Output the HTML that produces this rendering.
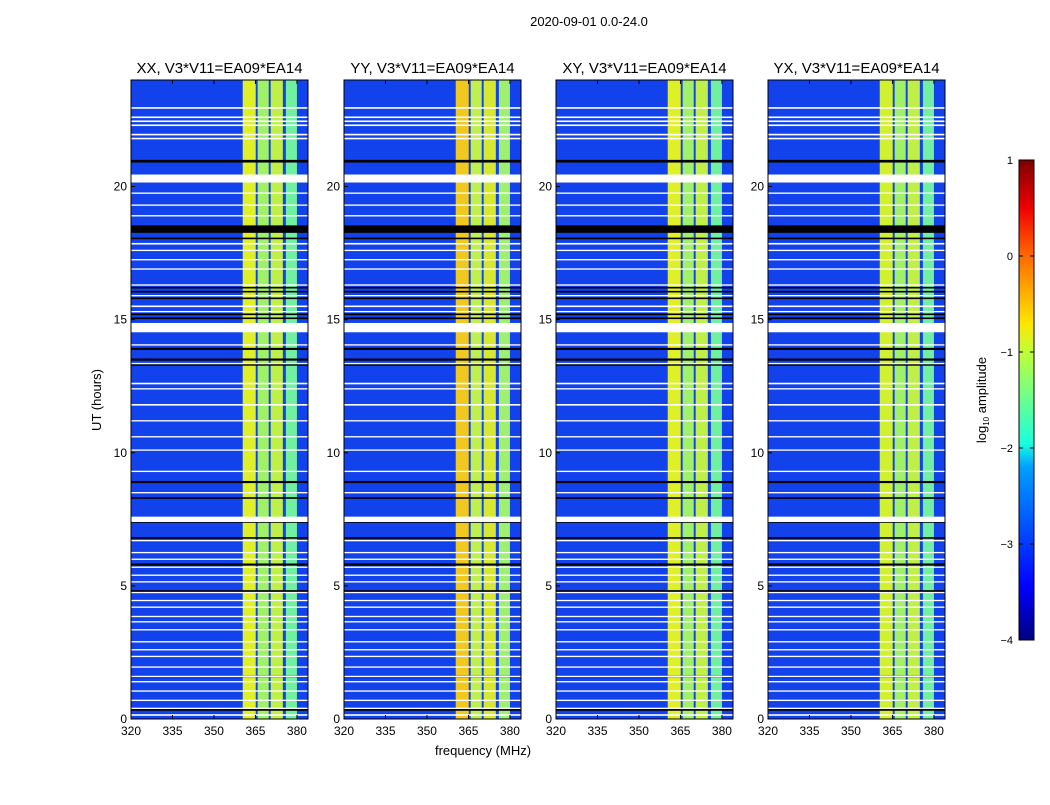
<!DOCTYPE html>
<html><head><meta charset="utf-8"><style>
body{margin:0;background:#fff;}
svg text{font-family:"Liberation Sans",sans-serif;fill:#000;}
</style></head><body>
<svg id="fig" width="1050" height="800" xmlns="http://www.w3.org/2000/svg">
<defs>
<linearGradient id="jet" x1="0" y1="1" x2="0" y2="0">
<stop offset="0" stop-color="#00007f"/><stop offset="0.11" stop-color="#0000ff"/>
<stop offset="0.36" stop-color="#00a0ff"/><stop offset="0.41" stop-color="#19ffdf"/>
<stop offset="0.6" stop-color="#c0ff37"/><stop offset="0.66" stop-color="#ffe600"/>
<stop offset="0.8" stop-color="#ff6a00"/><stop offset="0.9" stop-color="#f00000"/>
<stop offset="1" stop-color="#7f0000"/></linearGradient>
</defs>
<text x="589" y="26" font-size="13" text-anchor="middle">2020-09-01 0.0-24.0</text>
<text x="483" y="755" font-size="13" text-anchor="middle">frequency (MHz)</text>
<text transform="translate(101,400) rotate(-90)" font-size="13" text-anchor="middle">UT (hours)</text>
<g id="panels"></g>
<g>
<rect x="1019" y="160" width="15" height="480" fill="url(#jet)" stroke="#000" stroke-width="1"/>
<text transform="translate(986,400) rotate(-90)" font-size="13" text-anchor="middle">log<tspan font-size="8" dy="3">10</tspan><tspan dy="-3"> amplitude</tspan></text>
</g>
<g id="cbticks"></g>
</svg>
<script>
const titles=["XX, V3*V11=EA09*EA14","YY, V3*V11=EA09*EA14","XY, V3*V11=EA09*EA14","YX, V3*V11=EA09*EA14"];
const xTicks=[320,335,350,365,380];
const yTicks=[0,5,10,15,20];
const bandCols=[[360.4,365.1],[365.8,369.8],[370.5,374.9],[376,380]];
const bandColors=[["#e0f028","#a0f068","#c0f048","#70f0a0"],["#f0c820","#c0f050","#d8e830","#a0f070"],["#e0f028","#a0f068","#c0f048","#70f0a0"],["#d0f030","#a0f068","#c0f048","#70f0a0"]];
const whiteLines=[[22.95,0.06],[22.6,0.06],[22.45,0.06],[22.3,0.06],[21.95,0.06],[21.8,0.06],[20.3,0.3],[19.75,0.05],[19.3,0.05],[18.9,0.05],[17.85,0.06],[17.6,0.05],[17.25,0.05],[16.9,0.05],[16.3,0.05],[15.9,0.05],[15.5,0.06],[15.3,0.05],[14.7,0.35],[14.05,0.05],[13.35,0.05],[12.6,0.06],[12.4,0.05],[11.8,0.06],[11.2,0.05],[10.6,0.05],[10.1,0.05],[9.3,0.05],[8.5,0.05],[7.5,0.2],[6.7,0.05],[6.25,0.05],[6.0,0.05],[5.7,0.05],[5.4,0.05],[5.15,0.05],[4.75,0.05],[4.45,0.05],[4.2,0.05],[3.85,0.05],[3.65,0.05],[3.35,0.05],[2.9,0.05],[2.6,0.05],[2.35,0.05],[1.95,0.05],[1.6,0.05],[1.4,0.05],[1.05,0.05],[0.7,0.05],[0.4,0.05],[0.15,0.06]];
const blackLines=[[20.95,0.1],[18.4,0.28],[18.05,0.06],[16.2,0.06],[16.05,0.06],[15.8,0.06],[15.2,0.06],[15.05,0.06],[13.9,0.08],[13.5,0.08],[13.3,0.06],[8.9,0.08],[8.3,0.06],[7.4,0.06],[6.8,0.06],[5.8,0.08],[4.8,0.08],[1.6,0.06],[0.35,0.08]];
const cbTicks=[1,0,-1,-2,-3,-4];

const NS="http://www.w3.org/2000/svg";
function mk(tag,attrs,parent){const e=document.createElementNS(NS,tag);for(const k in attrs)e.setAttribute(k,attrs[k]);parent.appendChild(e);return e;}
const lefts=[131,344,556,768];
const W=177,top0=80,bot=719;
const fMin=320,fMax=384,hMax=24;
const root=document.getElementById('panels');
lefts.forEach((L,p)=>{
  const xs=f=>L+(f-fMin)/(fMax-fMin)*W;
  const ys=h=>bot-h/hMax*(bot-top0);
  const g=mk('g',{},root);
  
  
  const bg=mk('rect',{x:L,y:top0,width:W,height:bot-top0,fill:'#1242ec'},g);
  
  
  bandCols.forEach((c,i)=>{
    const r=mk('rect',{x:xs(c[0]),y:top0,width:xs(c[1])-xs(c[0]),height:bot-top0,fill:bandColors[p][i]},g);
    
    
  });
  blackLines.forEach(b=>{
    const r=mk('rect',{x:L,y:ys(b[0]+b[1]/2),width:W,height:Math.max(1.5,ys(b[0]-b[1]/2)-ys(b[0]+b[1]/2)),fill:'#000'},g);
    
    
  });
  whiteLines.forEach(b=>{
    const r=mk('rect',{x:L,y:ys(b[0]+b[1]/2),width:W,height:Math.max(1.2,ys(b[0]-b[1]/2)-ys(b[0]+b[1]/2)),fill:'#fff'},g);
    
    
  });
  mk('rect',{x:L,y:top0,width:W,height:bot-top0,fill:'none',stroke:'#000','stroke-width':1},g);
  const t=mk('text',{x:L+W/2,y:73,'font-size':15,'text-anchor':'middle'},g);t.textContent=titles[p];
  
  
  xTicks.forEach(v=>{
    mk('line',{x1:xs(v),x2:xs(v),y1:bot,y2:bot-4,stroke:'#000'},g);
    mk('line',{x1:xs(v),x2:xs(v),y1:top0,y2:top0+4,stroke:'#000'},g);
    const tt=mk('text',{x:xs(v),y:bot+16,'font-size':12,'text-anchor':'middle'},g);tt.textContent=v;
    
    
  });
  yTicks.forEach(v=>{
    mk('line',{x1:L,x2:L+4,y1:ys(v),y2:ys(v),stroke:'#000'},g);
    const tt=mk('text',{x:L-4,y:ys(v)+4,'font-size':12,'text-anchor':'end'},g);tt.textContent=v;
    
    
  });
});
const cb=document.getElementById('cbticks');
cbTicks.forEach(v=>{
  const y=160+(1-v)/5*480;
  mk('line',{x1:1019,x2:1023,y1:y,y2:y,stroke:'#000'},cb);
  mk('line',{x1:1030,x2:1034,y1:y,y2:y,stroke:'#000'},cb);
  const t=mk('text',{x:1013,y:y+4,'font-size':11,'text-anchor':'end'},cb);t.textContent=v<0?'\u2212'+(-v):v;
  
  
});
</script>
</body></html>
